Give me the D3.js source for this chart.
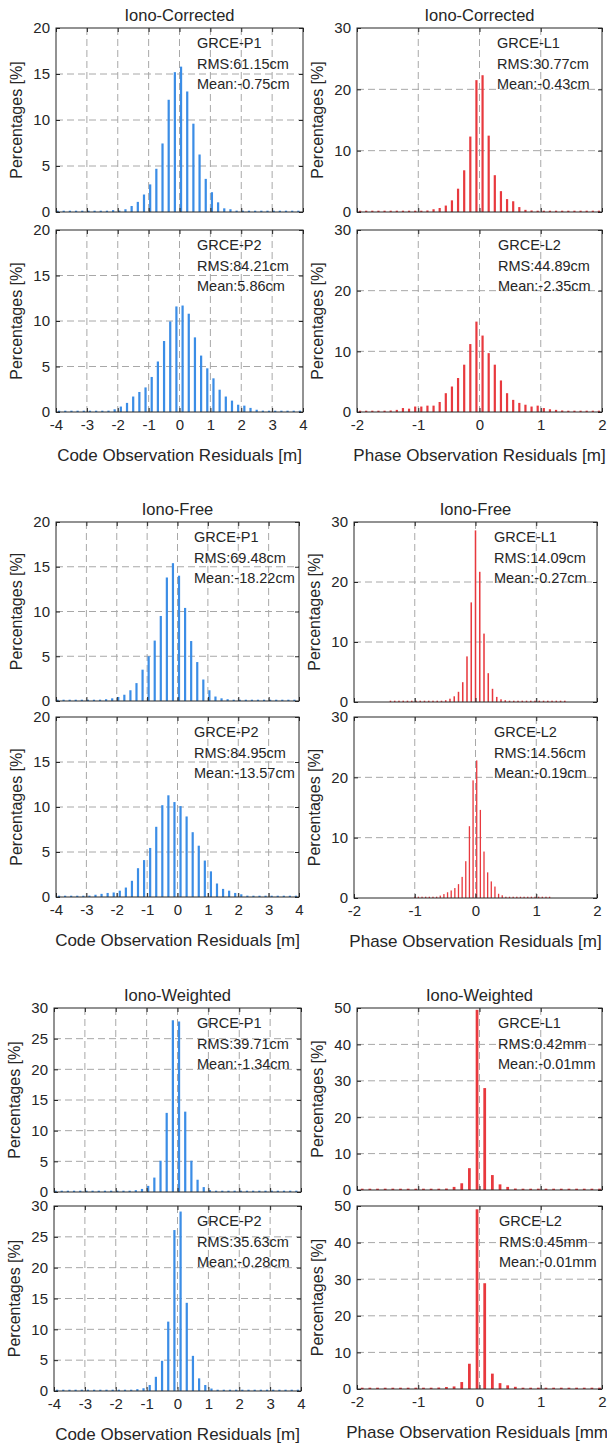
<!DOCTYPE html>
<html>
<head>
<meta charset="utf-8">
<script src="https://cdn.jsdelivr.net/npm/d3@7"></script>
<style>
  body { margin: 0; background: #fff; }
  svg { display: block; font-family: "Liberation Sans", Arial, sans-serif; }
</style>
</head>
<body>
<div id="chart"></div>
<script>
'use strict';

// tick values
var codeTicksX = [-4, -3, -2, -1, 0, 1, 2, 3, 4];
var phaseTicksX = [-2, -1, 0, 1, 2];
var yTicks20 = [0, 5, 10, 15, 20];
var yTicks30c = [0, 5, 10, 15, 20, 25, 30];
var yTicks30p = [0, 10, 20, 30];
var yTicks50 = [0, 10, 20, 30, 40, 50];

// histogram percentages, one value per bin (first bin centre + bin width given with each panel)
var corrP1 = [0.05,0.05,0.05,0.05,0.05,0.05,0.05,0.05,0.05,0.2,0.15,0.3,0.65,1.1,1.9,3.0,4.7,7.45,12.2,15.2,
              15.8,13.1,9.6,6.25,3.6,2.15,1.05,0.4,0.3,0.15,0.05,0.05,0.05,0.05,0.05,0.05,0.05,0.05,0.05,0.05];
var corrP2 = [0.05,0.05,0.05,0.05,0.05,0.05,0.05,0.1,0.15,0.3,0.6,1.0,1.7,2.2,2.7,3.85,5.55,7.8,9.95,11.6,
              11.7,10.8,8.2,6.2,4.8,3.7,2.45,1.7,1.25,0.8,0.7,0.45,0.25,0.15,0.1,0.05,0.05,0.05,0.05,0.05];
var corrL1 = [0.05,0.05,0.05,0.05,0.05,0.05,0.05,0.05,0.05,0.05,0.15,0.25,0.45,0.65,1.05,1.9,3.8,6.8,12.3,21.5,
              22.3,12.45,6.0,3.4,2.1,1.75,0.8,0.35,0.25,0.15,0.05,0.05,0.05,0.05,0.05,0.05,0.05,0.05,0.05,0.05];
var corrL2 = [0.05,0.05,0.05,0.05,0.1,0.25,0.35,0.65,0.55,0.9,0.9,1.05,1.05,1.65,3.1,4.2,5.6,7.8,11.2,14.9,
              12.6,9.7,7.8,5.2,3.1,2.0,1.5,1.2,0.9,1.05,0.65,0.45,0.35,0.25,0.1,0.05,0.05,0.05,0.05,0.05];

var freeP1 = [0.05,0.05,0.05,0.05,0.05,0.05,0.1,0.15,0.2,0.3,0.45,0.7,1.2,2.0,3.5,5.0,6.75,9.5,13.8,15.4,
              14.0,10.4,6.7,4.35,2.4,1.2,0.5,0.3,0.2,0.1,0.05,0.05,0.05,0.05,0.05,0.05,0.05,0.05,0.05,0.05];
var freeP2 = [0.05,0.05,0.05,0.05,0.1,0.15,0.25,0.35,0.45,0.5,0.7,1.05,1.8,3.2,4.1,5.45,7.8,10.2,11.3,10.55,
              10.1,8.95,7.2,5.7,4.05,2.85,1.5,0.9,0.7,0.45,0.3,0.15,0.1,0.05,0.05,0.05,0.05,0.05,0.05,0.05];
var freeL1 = [0.05,0.05,0.05,0.05,0.05,0.05,0.05,0.05,0.05,0.05,0.05,0.1,0.2,0.3,0.55,0.95,1.7,3.3,7.6,16.6,
              28.6,21.7,11.4,4.8,2.2,0.85,0.45,0.3,0.15,0.05,0.05,0.05,0.05,0.05,0.05,0.05,0.05,0.05,0.05,0.05,0.05,0.05];
var freeL2 = [0.05,0.05,0.05,0.05,0.05,0.1,0.2,0.4,0.65,0.95,1.25,1.65,2.3,3.5,6.1,11.9,19.5,22.8,14.6,7.7,
              4.25,2.75,1.9,0.7,0.45,0.2,0.1,0.05,0.05,0.05,0.05,0.05,0.05,0.05,0.05,0.05,0.05,0.05];

var wtdP1 = [0.05,0.05,0.05,0.05,0.05,0.05,0.05,0.05,0.05,0.05,0.05,0.1,0.15,0.3,0.5,1.0,2.35,5.1,12.9,28.0,
             27.8,13.1,5.1,2.0,0.8,0.3,0.1,0.05,0.05,0.05,0.05,0.05,0.05,0.05,0.05,0.05,0.05,0.05,0.05,0.05];
var wtdP2 = [0.05,0.05,0.05,0.05,0.05,0.05,0.05,0.05,0.05,0.05,0.05,0.05,0.1,0.3,0.45,0.97,2.3,4.9,11.25,26.1,
             29.1,14.3,5.7,2.05,0.97,0.4,0.15,0.05,0.05,0.05,0.05,0.05,0.05,0.05,0.05,0.05,0.05,0.05,0.05,0.05];
var wtdL1 = [0.05,0.05,0.05,0.05,0.05,0.05,0.05,0.05,0.1,0.2,0.3,0.4,0.85,1.85,6.0,49.5,
             28.0,4.1,1.55,0.85,0.4,0.2,0.1,0.05,0.05,0.05,0.05,0.05,0.05,0.05,0.05,0.05];
var wtdL2 = [0.05,0.05,0.05,0.05,0.05,0.05,0.05,0.05,0.15,0.3,0.4,0.55,0.7,1.9,6.9,49.1,
             28.9,4.2,1.6,1.0,0.6,0.35,0.3,0.1,0.05,0.05,0.05,0.05,0.05,0.05,0.05,0.05];

var BLUE = '#3b8de6';
var RED = '#e8393e';
var INK = '#262626';

var panels = [
  { title: 'Iono-Corrected', box: [56, 28, 303, 212], xTicks: codeTicksX, yTicks: yTicks20, color: BLUE,
    start: -3.95, step: 0.2, values: corrP1, text: ['GRCE-P1', 'RMS:61.15cm', 'Mean:-0.75cm'], tx: 197 },
  { box: [56, 230, 303, 412], xTicks: codeTicksX, yTicks: yTicks20, color: BLUE,
    start: -3.9, step: 0.2, values: corrP2, text: ['GRCE-P2', 'RMS:84.21cm', 'Mean:5.86cm'], tx: 197,
    xLabel: 'Code Observation Residuals [m]' },
  { title: 'Iono-Corrected', box: [357, 28, 602, 212], xTicks: phaseTicksX, yTicks: yTicks30p, color: RED,
    start: -1.95, step: 0.1, values: corrL1, text: ['GRCE-L1', 'RMS:30.77cm', 'Mean:-0.43cm'], tx: 497 },
  { box: [357, 230, 602, 412], xTicks: phaseTicksX, yTicks: yTicks30p, color: RED,
    start: -1.95, step: 0.1, values: corrL2, text: ['GRCE-L2', 'RMS:44.89cm', 'Mean:-2.35cm'], tx: 498,
    xLabel: 'Phase Observation Residuals [m]' },

  { title: 'Iono-Free', box: [56, 522, 299, 701], xTicks: codeTicksX, yTicks: yTicks20, color: BLUE,
    start: -3.95, step: 0.2, values: freeP1, text: ['GRCE-P1', 'RMS:69.48cm', 'Mean:-18.22cm'], tx: 194 },
  { box: [56, 717, 299, 897], xTicks: codeTicksX, yTicks: yTicks20, color: BLUE,
    start: -3.9, step: 0.2, values: freeP2, text: ['GRCE-P2', 'RMS:84.95cm', 'Mean:-13.57cm'], tx: 194,
    xLabel: 'Code Observation Residuals [m]' },
  { title: 'Iono-Free', box: [354, 522, 597, 702], xTicks: phaseTicksX, yTicks: yTicks30p, color: RED,
    start: -1.4, step: 0.07, values: freeL1, text: ['GRCE-L1', 'RMS:14.09cm', 'Mean:-0.27cm'], tx: 494 },
  { box: [354, 717, 597, 898], xTicks: phaseTicksX, yTicks: yTicks30p, color: RED,
    start: -1.0, step: 0.06, values: freeL2, text: ['GRCE-L2', 'RMS:14.56cm', 'Mean:-0.19cm'], tx: 494,
    xLabel: 'Phase Observation Residuals [m]' },

  { title: 'Iono-Weighted', box: [54, 1008, 301, 1192], xTicks: codeTicksX, yTicks: yTicks30c, color: BLUE,
    start: -3.95, step: 0.2, values: wtdP1, text: ['GRCE-P1', 'RMS:39.71cm', 'Mean:-1.34cm'], tx: 197 },
  { box: [54, 1206, 301, 1391], xTicks: codeTicksX, yTicks: yTicks30c, color: BLUE,
    start: -3.9, step: 0.2, values: wtdP2, text: ['GRCE-P2', 'RMS:35.63cm', 'Mean:-0.28cm'], tx: 197,
    xLabel: 'Code Observation Residuals [m]' },
  { title: 'Iono-Weighted', box: [357, 1008, 602, 1190], xTicks: phaseTicksX, yTicks: yTicks50, color: RED,
    start: -1.915, step: 0.125, values: wtdL1, text: ['GRCE-L1', 'RMS:0.42mm', 'Mean:-0.01mm'], tx: 498 },
  { box: [357, 1206, 602, 1389], xTicks: phaseTicksX, yTicks: yTicks50, color: RED,
    start: -1.915, step: 0.125, values: wtdL2, text: ['GRCE-L2', 'RMS:0.45mm', 'Mean:-0.01mm'], tx: 499,
    xLabel: 'Phase Observation Residuals [mm]' }
];

var svg = d3.select('#chart').append('svg')
  .attr('width', 607)
  .attr('height', 1443);

svg.append('rect').attr('width', 607).attr('height', 1443).attr('fill', '#fff');

var fmt = function(d){ return String(d); };

panels.forEach(function(p){
  var left = p.box[0], top = p.box[1], right = p.box[2], bottom = p.box[3];
  var xDom = d3.extent(p.xTicks);
  var yDom = d3.extent(p.yTicks);
  var x = d3.scaleLinear().domain(xDom).range([left, right]);
  var y = d3.scaleLinear().domain(yDom).range([bottom, top]);

  var g = svg.append('g');

  // grid
  g.append('g').selectAll('line.vx')
    .data(p.xTicks.slice(1, -1))
    .join('line')
      .attr('x1', function(d){ return x(d); })
      .attr('x2', function(d){ return x(d); })
      .attr('y1', top).attr('y2', bottom)
      .attr('stroke', '#a8a8a8').attr('stroke-width', 1)
      .attr('stroke-dasharray', '7,4');
  g.append('g').selectAll('line.hy')
    .data(p.yTicks.slice(1, -1))
    .join('line')
      .attr('y1', function(d){ return y(d); })
      .attr('y2', function(d){ return y(d); })
      .attr('x1', left).attr('x2', right)
      .attr('stroke', '#a8a8a8').attr('stroke-width', 1)
      .attr('stroke-dasharray', '7,4');

  // bars
  var pxStep = x(p.step) - x(0);
  var bw = Math.max(pxStep * 0.36, 1.2);
  g.append('g').selectAll('rect')
    .data(p.values)
    .join('rect')
      .attr('x', function(d, i){ return x(p.start + i * p.step) - bw / 2; })
      .attr('width', bw)
      .attr('y', function(d){ return Math.min(y(d), y(0) - 1.3); })
      .attr('height', function(d){ return Math.max(y(0) - y(d), 1.3); })
      .attr('fill', p.color);

  // axes, MATLAB style ticks pointing inward
  var yAxis = g.append('g')
    .attr('transform', 'translate(' + left + ',0)')
    .call(d3.axisLeft(y).tickValues(p.yTicks).tickFormat(fmt).tickSizeInner(-4).tickSizeOuter(0).tickPadding(6));
  g.append('g')
    .attr('transform', 'translate(' + right + ',0)')
    .call(d3.axisRight(y).tickValues(p.yTicks).tickFormat('').tickSizeInner(-4).tickSizeOuter(0));
  var xAxis = g.append('g')
    .attr('transform', 'translate(0,' + bottom + ')')
    .call(d3.axisBottom(x).tickValues(p.xTicks).tickFormat(p.xLabel ? fmt : '').tickSizeInner(-4).tickSizeOuter(0).tickPadding(7));
  g.append('g')
    .attr('transform', 'translate(0,' + top + ')')
    .call(d3.axisTop(x).tickValues(p.xTicks).tickFormat('').tickSizeInner(-4).tickSizeOuter(0));

  g.selectAll('.domain').remove();
  g.selectAll('.tick line').attr('stroke', INK);
  g.selectAll('.tick text')
    .attr('fill', INK)
    .style('font-size', '15px')
    .style('font-family', '"Liberation Sans", Arial, sans-serif');

  // box
  g.append('rect')
    .attr('x', left).attr('y', top)
    .attr('width', right - left).attr('height', bottom - top)
    .attr('fill', 'none').attr('stroke', INK).attr('stroke-width', 1);

  // annotation
  var ann = g.append('text')
    .attr('fill', INK)
    .style('font-size', '14.5px');
  ann.selectAll('tspan')
    .data(p.text)
    .join('tspan')
      .attr('x', p.tx)
      .attr('y', function(d, i){ return top + 20 + i * 20.5; })
      .text(function(d){ return d; });

  // y label
  g.append('text')
    .attr('transform', 'translate(' + (left - 34) + ',' + ((top + bottom) / 2) + ') rotate(-90)')
    .attr('text-anchor', 'middle')
    .attr('fill', INK)
    .style('font-size', '16px')
    .text('Percentages [%]');

  if (p.title) {
    g.append('text')
      .attr('x', (left + right) / 2)
      .attr('y', top - 7)
      .attr('text-anchor', 'middle')
      .attr('fill', INK)
      .style('font-size', '16.5px')
      .text(p.title);
  }

  if (p.xLabel) {
    g.append('text')
      .attr('x', (left + right) / 2)
      .attr('y', bottom + 49)
      .attr('text-anchor', 'middle')
      .attr('fill', INK)
      .style('font-size', '17px')
      .text(p.xLabel);
  }
});
</script>
</body>
</html>
